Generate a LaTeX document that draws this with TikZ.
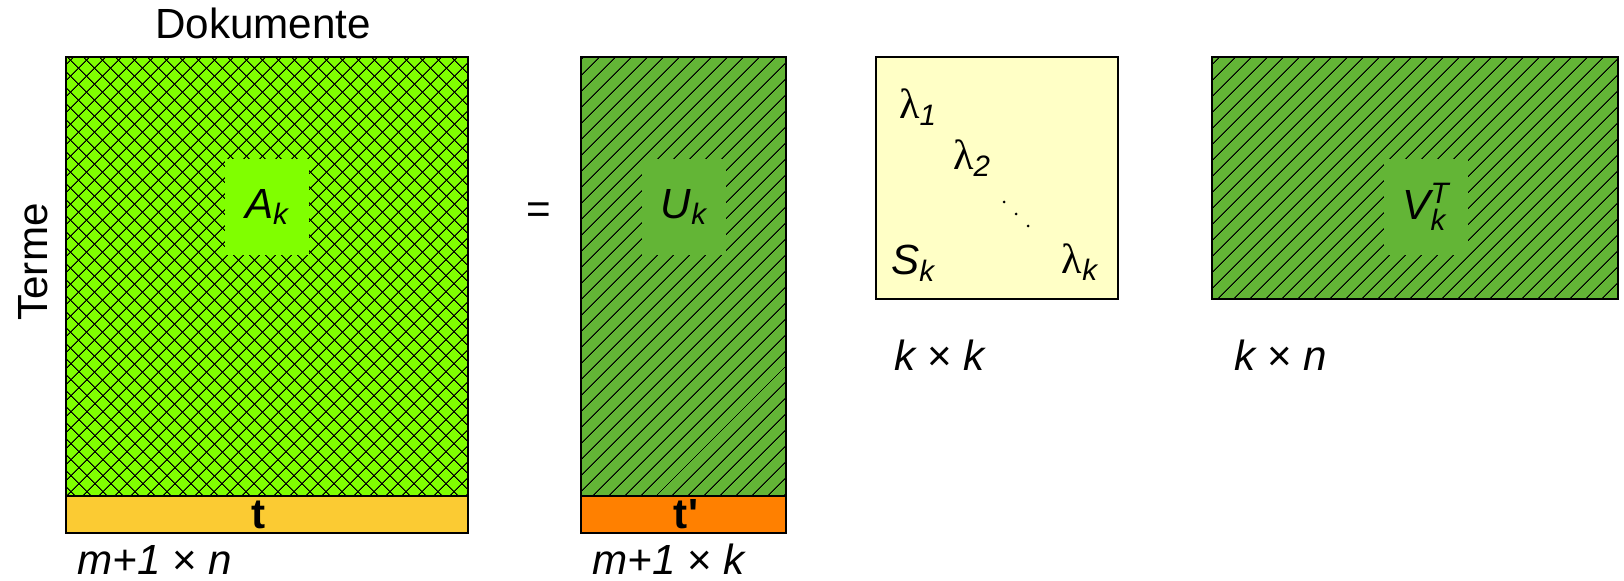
\documentclass[tikz,border=0pt]{standalone}
\usepackage{fontspec}
\setmainfont{Liberation Sans}
\newfontfamily\greekfont{Liberation Serif}
\usepackage{tikz}
\usetikzlibrary{patterns.meta,positioning}
\definecolor{akgreen}{HTML}{80FF00}
\definecolor{ukgreen}{HTML}{63B536}
\definecolor{skyellow}{HTML}{FFFFC6}
\definecolor{tyellow}{HTML}{FBCB33}
\definecolor{torange}{HTML}{FF8000}
\newcommand{\lam}{\mbox{\greekfont λ}}

\begin{document}
\begin{tikzpicture}[
  font=\fontsize{24}{29}\selectfont,
  mat/.style={draw=black,line width=0.9pt},
  hatch/.style={pattern={Lines[angle=45,distance=6.4pt,line width=0.55pt]},pattern color=black},
  crosshatch/.style={pattern={Lines[angle=-45,distance=6.4pt,line width=0.55pt]},pattern color=black},
  lbl/.style={minimum width=1.68cm,minimum height=1.92cm,inner sep=0pt},
  dim/.style={anchor=base west,inner sep=0pt},
  bartext/.style={font=\fontsize{24}{29}\selectfont\bfseries}
]
  \useasboundingbox (0,0) rectangle (32.48,11.6);

  % A_k
  \fill[akgreen] (1.32,1.68) rectangle (9.36,10.46);
  \fill[crosshatch] (1.32,1.68) rectangle (9.36,10.46);
  \fill[hatch] (1.32,1.68) rectangle (9.36,10.46);
  \node[lbl,fill=akgreen] (ak) at (5.34,7.46) {$\mathit{A}_{\mathit{k}}$};
  \draw[mat] (1.32,1.68) rectangle (9.36,10.46);
  \draw[mat,fill=tyellow] (1.32,0.94) rectangle (9.36,1.68);
  \node[bartext] (t) at (5.18,1.31) {t};

  \node[anchor=base] (doks) at (5.26,10.82) {Dokumente};
  \node[anchor=base,rotate=90] (terme) at (0.94,6.36) {Terme};
  \node[dim] (dima) at (1.54,0.12) {{\itshape m+1 }×{\itshape\ n}};

  \node (eq) at (10.78,7.34) {=};

  % U_k
  \fill[ukgreen] (11.62,1.68) rectangle (15.72,10.46);
  \fill[hatch] (11.62,1.68) rectangle (15.72,10.46);
  \node[lbl,fill=ukgreen] (uk) at (13.68,7.46) {$\mathit{U}_{\mathit{k}}$};
  \draw[mat] (11.62,1.68) rectangle (15.72,10.46);
  \draw[mat,fill=torange] (11.62,0.94) rectangle (15.72,1.68);
  \node[bartext] (tp) at (13.72,1.31) {t\textquotesingle};
  \node[dim] (dimu) at (11.84,0.12) {{\itshape m+1 }×{\itshape\ k}};

  % S_k
  \draw[mat,fill=skyellow] (17.52,5.62) rectangle (22.36,10.46);
  \node (l1) at (18.36,9.46) {$\lam_{\mathit{1}}$};
  \node (l2) at (19.44,8.44) {$\lam_{\mathit{2}}$};
  \foreach \d in {0,1,2}
    \fill (20.08+0.24*\d,7.56-0.24*\d) circle (0.03);
  \node (lk) at (21.6,6.36) {$\lam_{\mathit{k}}$};
  \node (sk) at (18.26,6.34) {$\mathit{S}_{\mathit{k}}$};
  \node[dim] (dims) at (17.88,4.2) {{\itshape k }×{\itshape\ k}};

  % V_k^T
  \fill[ukgreen] (24.24,5.62) rectangle (32.36,10.46);
  \fill[hatch] (24.24,5.62) rectangle (32.36,10.46);
  \node[lbl,fill=ukgreen] (vk) at (28.52,7.46) {$\mathit{V}_{\mathit{k}}^{\mathit{T}}$};
  \draw[mat] (24.24,5.62) rectangle (32.36,10.46);
  \node[dim] (dimv) at (24.68,4.2) {{\itshape k }×{\itshape\ n}};
\end{tikzpicture}
\end{document}
